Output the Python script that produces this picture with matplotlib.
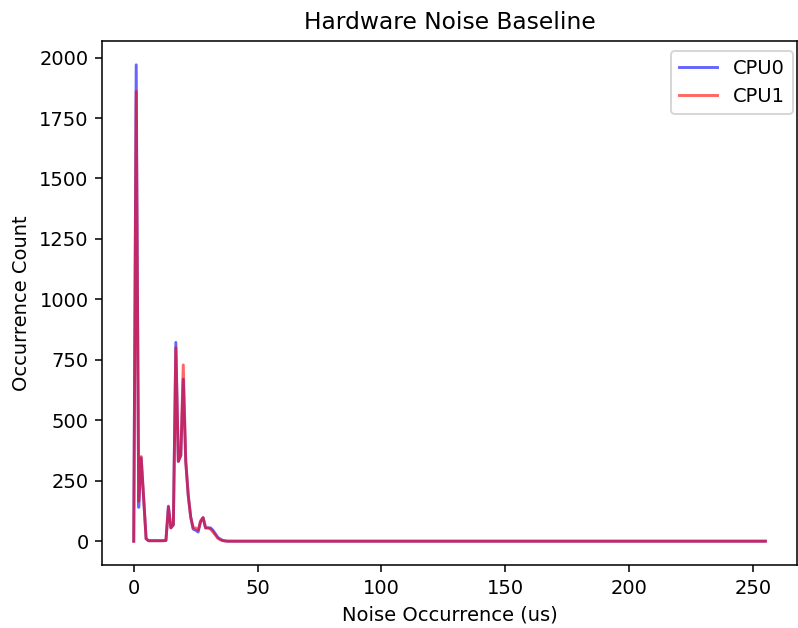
import numpy as np
from matplotlib import pyplot as plt

# histogram bins 0..255 us, counts
cpu0_head = [0, 1970, 140, 345, 180, 10, 2, 2, 2, 2, 2, 2, 2, 3,
             145, 55, 68, 822, 330, 355, 670, 330, 190, 100, 50, 45,
             38, 80, 97, 55, 55, 55, 45, 30, 15, 8, 3, 1]
cpu1_head = [0, 1860, 165, 350, 180, 10, 2, 2, 2, 2, 2, 2, 2, 3,
             140, 55, 68, 800, 330, 355, 729, 330, 190, 100, 55, 55,
             45, 85, 98, 55, 55, 50, 38, 25, 12, 6, 2, 1]
n_bins = 256
cpu0 = cpu0_head + [0] * (n_bins - len(cpu0_head))
cpu1 = cpu1_head + [0] * (n_bins - len(cpu1_head))
bins = np.arange(n_bins)

dpi = 140
fig = plt.figure(figsize=(798 / dpi, 628 / dpi), dpi=dpi)
ax = fig.add_axes([0.128, 0.1003, 0.8707, 0.8344])
ax.plot(bins, cpu0, color='blue', alpha=0.6, label='CPU0')
ax.plot(bins, cpu1, color='red', alpha=0.6, label='CPU1')
ax.set_xlabel("Noise Occurrence (us)")
ax.set_ylabel("Occurrence Count")
ax.set_title("Hardware Noise Baseline")
ax.legend(loc='upper right', bbox_to_anchor=(1.008, 1.0))
fig.savefig('out.png', dpi=dpi)
plt.close()
